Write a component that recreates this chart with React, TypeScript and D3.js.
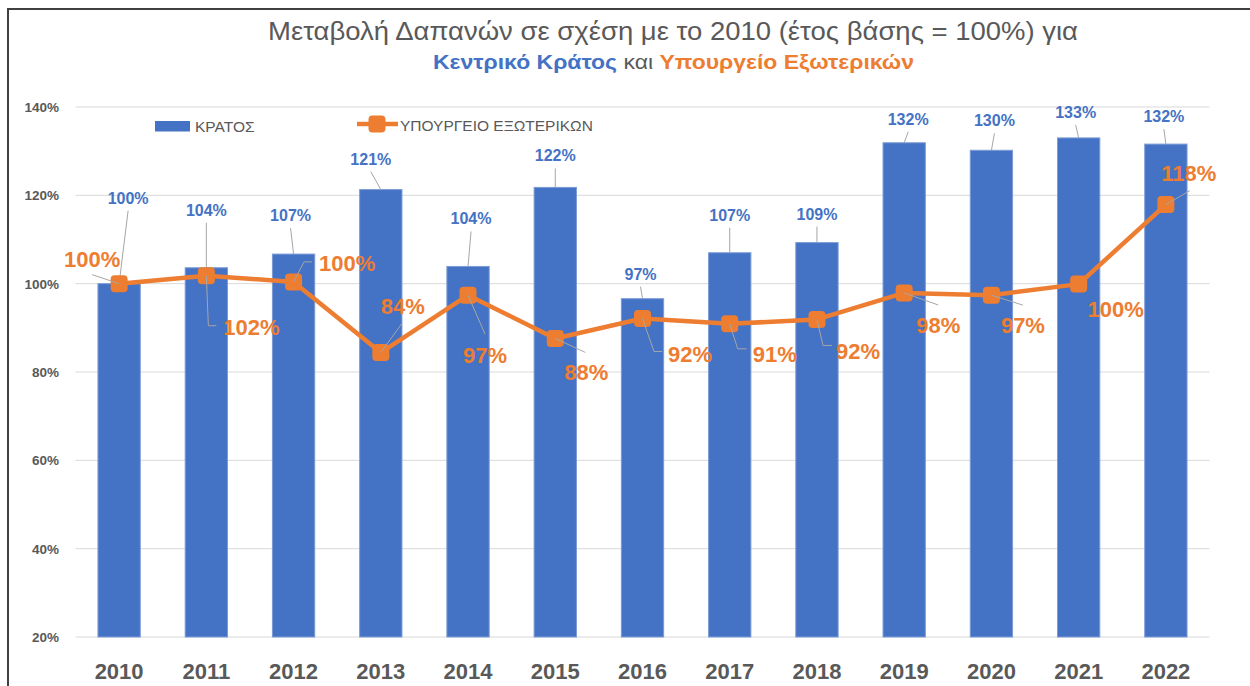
import React from 'react';
import * as d3 from 'd3';

const years = ['2010', '2011', '2012', '2013', '2014', '2015', '2016', '2017', '2018', '2019', '2020', '2021', '2022'];
const kratos = [100, 103.6, 106.7, 121.3, 103.9, 121.8, 96.6, 107.0, 109.3, 131.9, 130.2, 133.0, 131.6];
const ypex = [100, 101.8, 100.4, 84.4, 97.4, 87.6, 92.1, 90.9, 91.9, 97.9, 97.4, 99.9, 117.9];
const yTicks = [20, 40, 60, 80, 100, 120, 140];

const titleLine1 = 'Μεταβολή Δαπανών σε σχέση με το 2010 (έτος βάσης = 100%) για';
const titleBlue = 'Κεντρικό Κράτος';
const titleMid = ' και ';
const titleOrange = 'Υπουργείο Εξωτερικών';
const legendBar = 'ΚΡΑΤΟΣ';
const legendLine = 'ΥΠΟΥΡΓΕΙΟ ΕΞΩΤΕΡΙΚΩΝ';

// label layout (pixel offsets relative to the mark)
const blueOffsets: [number, number][] = [
  [9, -80], [0, -52], [-3, -33], [-10, -25], [3, -42], [0, -26], [-2, -19],
  [0, -32], [0, -23], [4, -18], [3, -24], [-3, -20], [-2, -22],
];
const orangeOffsets: [number, number][] = [
  [-27, -17], [45, 59], [53.5, -11], [22, -39], [17, 68], [31, 42], [47.5, 43],
  [45, 38], [41, 40], [34, 40], [31.5, 38], [37, 33], [23, -24],
];
const orangeLeaders: [number, number][][] = [
  [[0, 0], [-27, -9]],
  [[0, 0], [2, 50], [10, 50]],
  [[0, 0], [10.5, -20], [18.5, -20]],
  [[0, 0], [21, -29]],
  [[0, 0], [17, 39]],
  [[0, 0], [30, 14]],
  [[0, 0], [11.5, 33], [19.5, 33]],
  [[0, 0], [8, 25], [17, 25]],
  [[0, 0], [6, 26], [15, 26]],
  [[0, 0], [34, 12]],
  [[0, 0], [31.5, 10]],
  [],
  [[0, 0], [24, -14]],
];

const BLUE = '#4472C4';
const ORANGE = '#ED7D31';
const GRAY = '#595959';
const FONT = '"Liberation Sans", Arial, sans-serif';

export default function App() {
  const W = 1250, H = 686;
  const x = d3.scaleBand<string>().domain(years).range([75.5, 1209.5]).padding(0);
  const y = d3.scaleLinear().domain([20, 140]).range([637, 107]);
  const barW = x.bandwidth() * 0.485;
  const cx = (d: string) => (x(d) as number) + x.bandwidth() / 2;
  const fmt = (v: number) => `${Math.round(v)}%`;
  const line = d3.line<number>().x((_, i) => cx(years[i])).y((v) => y(v));
  const leaderLine = d3.line<[number, number]>();

  return (
    <svg width={W} height={H} style={{ position: 'absolute', left: 0, top: 0, background: '#fff' }} fontFamily={FONT}>
      <rect x={0} y={0} width={W} height={H} fill="#fff" />
      {/* frame */}
      <line x1={7} y1={9} x2={W} y2={9} stroke="#404040" strokeWidth={2} />
      <line x1={8} y1={8} x2={8} y2={H} stroke="#404040" strokeWidth={2} />

      {/* title */}
      <text x={268} y={40} fontSize={26} fill={GRAY} textLength={810} lengthAdjust="spacingAndGlyphs">
        {titleLine1}
      </text>
      <text x={433} y={69} fontSize={21} textLength={481} lengthAdjust="spacingAndGlyphs">
        <tspan fill={BLUE} fontWeight="bold">{titleBlue}</tspan>
        <tspan fill={GRAY}>{titleMid}</tspan>
        <tspan fill={ORANGE} fontWeight="bold">{titleOrange}</tspan>
      </text>

      {/* gridlines */}
      {yTicks.map((t) => (
        <line key={t} x1={75.5} x2={1209.5} y1={y(t)} y2={y(t)} stroke="#D9D9D9" strokeWidth={1} />
      ))}
      {yTicks.map((t) => (
        <text key={'l' + t} x={59} y={y(t) + 5} textAnchor="end" fontSize={13.5} fontWeight="bold" fill={GRAY}>
          {`${t}%`}
        </text>
      ))}

      {/* bars */}
      {kratos.map((v, i) => (
        <rect key={years[i]} x={cx(years[i]) - barW / 2} y={y(v)} width={barW} height={y(20) - y(v)}
          fill={BLUE} stroke="#7C9BD6" strokeWidth={1} />
      ))}

      {/* x labels */}
      {years.map((d) => (
        <text key={'x' + d} x={cx(d)} y={679} textAnchor="middle" fontSize={22} fontWeight="bold" fill={GRAY}>
          {d}
        </text>
      ))}

      {/* blue leaders */}
      {kratos.map((v, i) => {
        const bx = cx(years[i]), by = y(v);
        const lx = bx + blueOffsets[i][0], ly = by + blueOffsets[i][1] + 7;
        if (by - ly < 8) return null;
        return <line key={'bl' + i} x1={lx} y1={ly} x2={bx} y2={by} stroke="#A6A6A6" strokeWidth={1} />;
      })}

      {/* line series */}
      <path d={line(ypex) as string} fill="none" stroke={ORANGE} strokeWidth={4.5} strokeLinejoin="round" />
      {ypex.map((v, i) => (
        <rect key={'m' + i} x={cx(years[i]) - 8.5} y={y(v) - 8.5} width={17} height={17} rx={4} fill={ORANGE} />
      ))}

      {/* orange leaders */}
      {ypex.map((v, i) => {
        const pts = orangeLeaders[i];
        if (!pts.length) return null;
        const px = cx(years[i]), py = y(v);
        const abs = pts.map(([a, b]) => [px + a, py + b] as [number, number]);
        return <path key={'ol' + i} d={leaderLine(abs) as string} fill="none" stroke="#A6A6A6" strokeWidth={1} />;
      })}

      {/* blue labels */}
      {kratos.map((v, i) => (
        <text key={'bt' + i} x={cx(years[i]) + blueOffsets[i][0]} y={y(v) + blueOffsets[i][1]}
          textAnchor="middle" fontSize={16} fontWeight="bold" fill={BLUE}>
          {fmt(v)}
        </text>
      ))}

      {/* orange labels */}
      {ypex.map((v, i) => (
        <text key={'ot' + i} x={cx(years[i]) + orangeOffsets[i][0]} y={y(v) + orangeOffsets[i][1]}
          textAnchor="middle" fontSize={22} fontWeight="bold" fill={ORANGE}>
          {fmt(v)}
        </text>
      ))}

      {/* legend */}
      <rect x={155} y={121} width={35} height={10.5} fill={BLUE} />
      <text x={195} y={131.5} fontSize={15.5} fill={GRAY}>{legendBar}</text>
      <line x1={357} x2={398} y1={124} y2={124} stroke={ORANGE} strokeWidth={4.5} />
      <rect x={368.5} y={115.5} width={17} height={17} rx={4} fill={ORANGE} />
      <text x={400} y={130.5} fontSize={15.5} fill={GRAY}>{legendLine}</text>
    </svg>
  );
}
